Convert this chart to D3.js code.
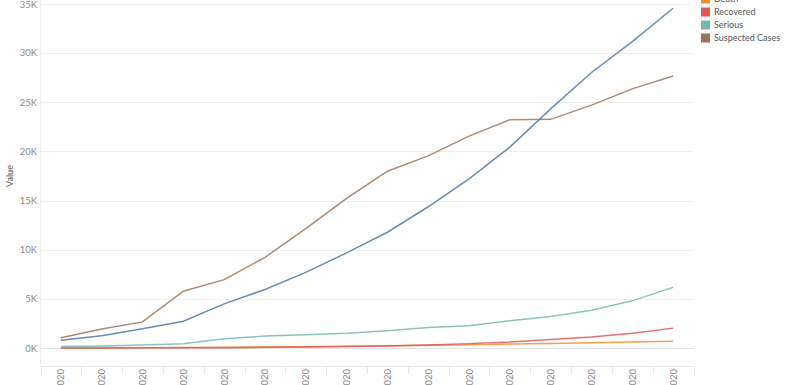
<!DOCTYPE html>
<html>
<head>
<meta charset="utf-8">
<script src="https://cdn.jsdelivr.net/npm/d3@7"></script>
<style>
  body { margin: 0; background: #fff; }
  svg { display: block; font-family: Lato, "Open Sans", sans-serif; }
</style>
</head>
<body>
<svg width="795" height="385"></svg>
<script>
// data, 24 Jan - 8 Feb 2020
const dates = ['1/24/2020', '1/25/2020', '1/26/2020', '1/27/2020', '1/28/2020', '1/29/2020',
  '1/30/2020', '1/31/2020', '2/1/2020', '2/2/2020', '2/3/2020', '2/4/2020', '2/5/2020',
  '2/6/2020', '2/7/2020', '2/8/2020'];
const confirmed = [830, 1287, 1975, 2744, 4515, 5974, 7711, 9692, 11791, 14380, 17205, 20438, 24324, 28018, 31161, 34546];
const death = [25, 41, 56, 80, 106, 132, 170, 213, 259, 304, 361, 425, 490, 563, 636, 723];
const recovered = [34, 38, 49, 51, 60, 103, 124, 171, 243, 328, 475, 632, 892, 1153, 1540, 2050];
const serious = [177, 237, 324, 461, 976, 1239, 1370, 1527, 1795, 2110, 2296, 2788, 3219, 3859, 4821, 6188];
const suspected = [1072, 1965, 2684, 5794, 6973, 9239, 12167, 15238, 17988, 19544, 21558, 23214, 23260, 24702, 26359, 27657];
const yTicks = [0, 5000, 10000, 15000, 20000, 25000, 30000, 35000];

const series = [
  {name: 'Confirmed', values: confirmed, color: '#4e79a7'},
  {name: 'Death', values: death, color: '#f28e2b'},
  {name: 'Recovered', values: recovered, color: '#e15759'},
  {name: 'Serious', values: serious, color: '#76b7b2'},
  {name: 'Suspected Cases', values: suspected, color: '#9c755f'}
];

const svg = d3.select('svg');
const left = 40.5, right = 693.5;

const x = d3.scaleBand().domain(dates).range([left, right]);
const y = d3.scaleLinear().domain([0, 35000]).range([348.3, 3.8]);
const axisY = Math.round(y(-1800)) + 0.5;

// gridlines
svg.append('g')
  .selectAll('line')
  .data(yTicks.filter(d => d > 0))
  .join('line')
  .attr('x1', left).attr('x2', right)
  .attr('y1', d => Math.round(y(d)) + 0.5).attr('y2', d => Math.round(y(d)) + 0.5)
  .attr('stroke', '#f0f0f0');

// zero line (dotted)
svg.append('line')
  .attr('x1', left).attr('x2', right)
  .attr('y1', Math.round(y(0)) + 0.5).attr('y2', Math.round(y(0)) + 0.5)
  .attr('stroke', '#c8c8c8')
  .attr('stroke-dasharray', '1,1');

// axis frame
svg.append('line')
  .attr('x1', left).attr('x2', left)
  .attr('y1', 0).attr('y2', axisY)
  .attr('stroke', '#ececec');
svg.append('line')
  .attr('x1', left).attr('x2', right)
  .attr('y1', axisY).attr('y2', axisY)
  .attr('stroke', '#e6e6e6');

// band separators under x axis
svg.append('g')
  .selectAll('line')
  .data(dates.concat(['end']))
  .join('line')
  .attr('x1', (d, i) => Math.round(left + i * x.bandwidth()) + 0.5)
  .attr('x2', (d, i) => Math.round(left + i * x.bandwidth()) + 0.5)
  .attr('y1', axisY).attr('y2', axisY + 7)
  .attr('stroke', '#e6e6e6');

// y axis labels
svg.append('g')
  .selectAll('text')
  .data(yTicks)
  .join('text')
  .attr('x', 37)
  .attr('y', d => Math.max(y(d), 5))
  .attr('dy', '0.35em')
  .attr('text-anchor', 'end')
  .attr('fill', '#8a8a8a')
  .attr('font-size', 9.5)
  .text(d => d3.format('d')(d / 1000) + 'K');

svg.append('text')
  .attr('transform', 'translate(13,176) rotate(-90)')
  .attr('text-anchor', 'middle')
  .attr('fill', '#555')
  .attr('font-size', 9)
  .text('Value');

// x axis labels (cut by the bottom edge, as in the source)
svg.append('g')
  .selectAll('text')
  .data(dates)
  .join('text')
  .attr('transform', d => `translate(${x(d) + x.bandwidth() / 2 + 3.5},369) rotate(-90)`)
  .attr('text-anchor', 'end')
  .attr('fill', '#8a8a8a')
  .attr('font-size', 9.5)
  .text(d => d);

// lines
const line = d3.line()
  .x((d, i) => x(dates[i]) + x.bandwidth() / 2)
  .y(d => y(d));

svg.append('g')
  .selectAll('path')
  .data(series)
  .join('path')
  .attr('d', d => line(d.values))
  .attr('fill', 'none')
  .attr('stroke', d => d.color)
  .attr('stroke-opacity', 0.85)
  .attr('stroke-width', 1.5);

// legend (top entries cropped off)
const legend = svg.append('g')
  .selectAll('g')
  .data(series)
  .join('g')
  .attr('transform', (d, i) => `translate(701,${-14 + i * 13})`);
legend.append('rect')
  .attr('width', 9).attr('height', 9)
  .attr('y', -4.5)
  .attr('fill', d => d.color);
legend.append('text')
  .attr('x', 13)
  .attr('dy', '0.35em')
  .attr('fill', '#555')
  .attr('font-size', 9)
  .text(d => d.name);
</script>
</body>
</html>
